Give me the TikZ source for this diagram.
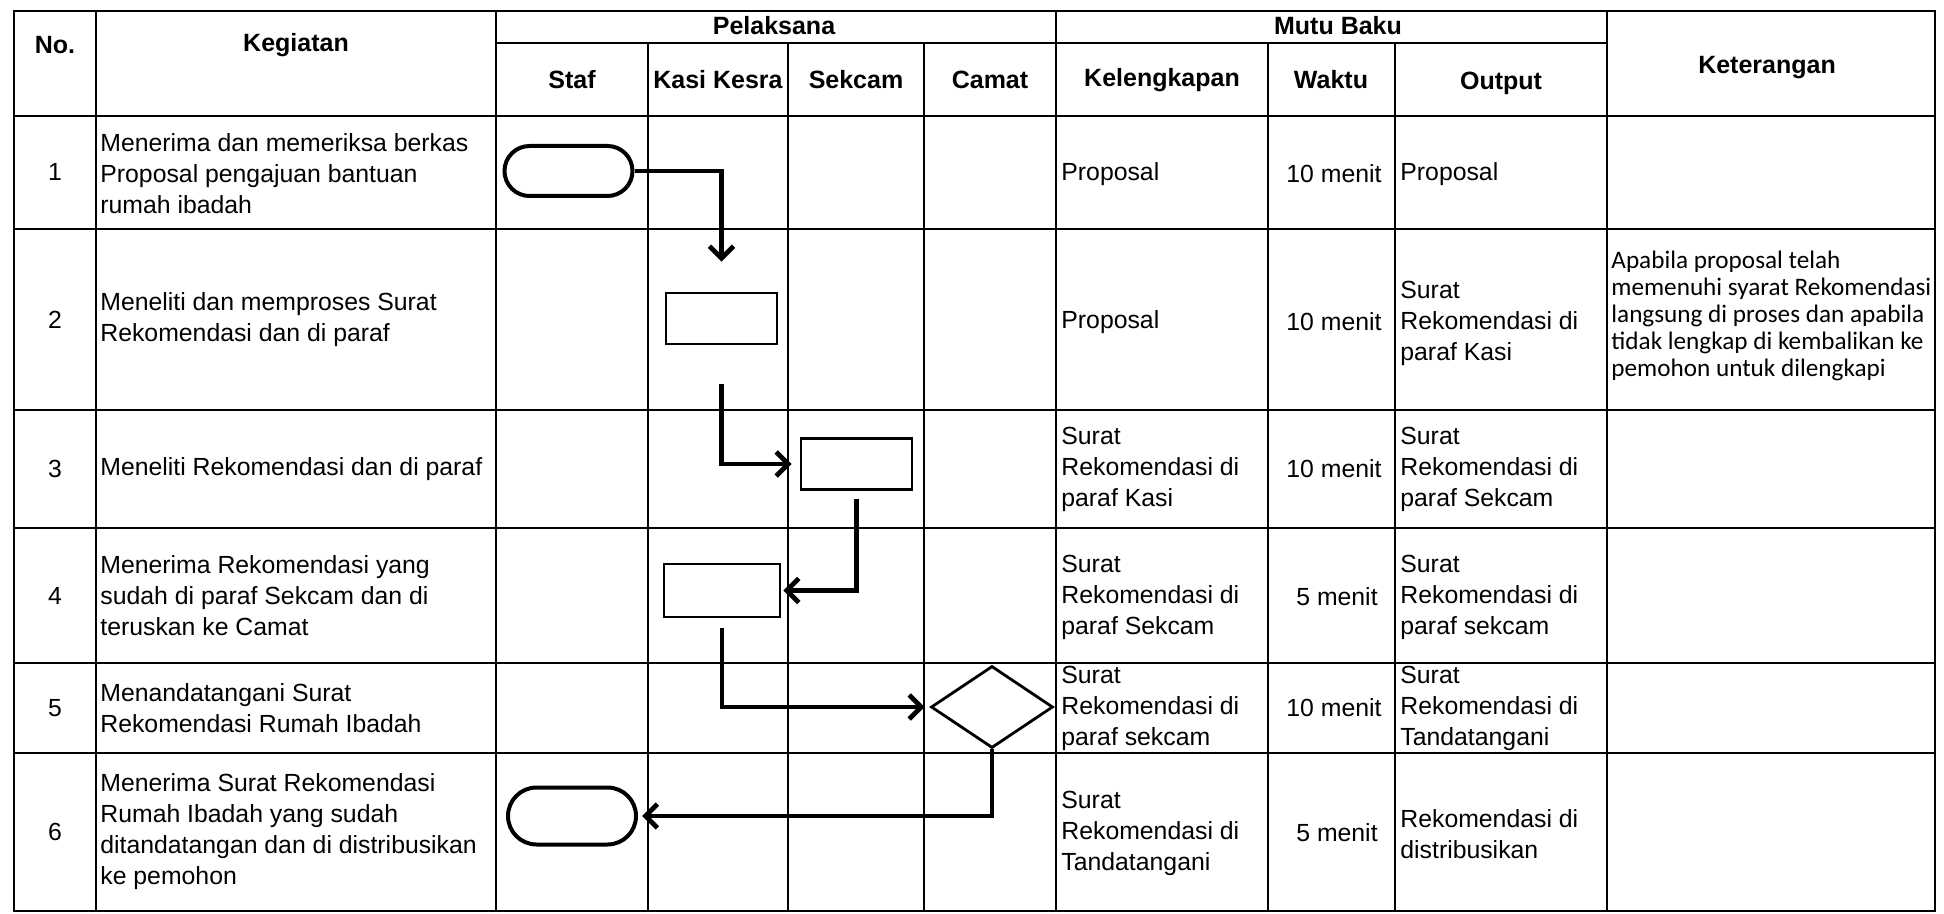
\documentclass[tikz,border=0pt]{standalone}
\usepackage{fontspec}
\setmainfont{Liberation Sans}
\newfontfamily\notefont{Carlito}
\usepackage{tikz}
\usetikzlibrary{arrows.meta, positioning, shapes, calc}

\tikzset{
    gridline/.style={line width=1.3pt},
    headtext/.style={font=\fontsize{12.5}{15}\selectfont\bfseries, inner sep=0pt},
    celltext/.style={font=\fontsize{12.4}{15.5}\selectfont, align=left, anchor=west, inner sep=0pt},
    numtext/.style={font=\fontsize{12.4}{15.5}\selectfont, inner sep=0pt},
    notetext/.style={font=\notefont\fontsize{12.6}{13.6}\selectfont, align=left, anchor=west, inner sep=0pt},
    terminal/.style={draw, line width=2pt, rounded rectangle, minimum width=64pt, minimum height=25pt, inner sep=0pt},
    process/.style={draw, line width=1.4pt, minimum width=55.5pt, minimum height=25.5pt, inner sep=0pt},
    decision/.style={draw, line width=1.4pt, diamond, minimum width=61pt, minimum height=41pt, inner sep=0pt},
    flowarrow/.style={line width=2.4pt, -{Straight Barb[length=6pt, width=12pt]}}
}

\begin{document}
\begin{tikzpicture}[x=0.5pt, y=-0.5pt]
    \useasboundingbox (0,0) rectangle (1944,914);

    % Table frame
    \draw[gridline] (14,11) rectangle (1935,911);
    \draw[gridline] (496,43) -- (1607,43);
    \draw[gridline] (14,116) -- (1935,116);
    \draw[gridline] (14,229) -- (1935,229);
    \draw[gridline] (14,410) -- (1935,410);
    \draw[gridline] (14,528) -- (1935,528);
    \draw[gridline] (14,663) -- (1935,663);
    \draw[gridline] (14,753) -- (1935,753);
    \draw[gridline] (96,11) -- (96,911);
    \draw[gridline] (496,11) -- (496,911);
    \draw[gridline] (1056,11) -- (1056,911);
    \draw[gridline] (1607,11) -- (1607,911);
    \draw[gridline] (648,43) -- (648,911);
    \draw[gridline] (788,43) -- (788,911);
    \draw[gridline] (924,43) -- (924,911);
    \draw[gridline] (1268,43) -- (1268,911);
    \draw[gridline] (1395,43) -- (1395,911);

    % Header
    \node[headtext] (hno) at (55,45) {No.};
    \node[headtext] (hkeg) at (296,45) {Kegiatan};
    \node[headtext] (hpel) at (774,26) {Pelaksana};
    \node[headtext] (hmutu) at (1338,26) {Mutu Baku};
    \node[headtext] (hket) at (1767,68) {Keterangan};
    \node[headtext] (hstaf) at (572,80) {Staf};
    \node[headtext] (hkasi) at (718,80) {Kasi Kesra};
    \node[headtext] (hsek) at (856,80) {Sekcam};
    \node[headtext] (hcam) at (990,80) {Camat};
    \node[headtext] (hkel) at (1162,80) {Kelengkapan};
    \node[headtext] (hwak) at (1331,80) {Waktu};
    \node[headtext] (hout) at (1501,83) {Output};

    % Row numbers
    \node[numtext] (no1) at (55,172) {1};
    \node[numtext] (no2) at (55,320) {2};
    \node[numtext] (no3) at (55,469) {3};
    \node[numtext] (no4) at (55,596) {4};
    \node[numtext] (no5) at (55,708) {5};
    \node[numtext] (no6) at (55,832) {6};

    % Kegiatan
    \node[celltext] (keg1) at (100,174) {Menerima dan memeriksa berkas\\Proposal pengajuan bantuan\\rumah ibadah};
    \node[celltext] (keg2) at (100,320) {Meneliti dan memproses Surat\\Rekomendasi dan di paraf};
    \node[celltext] (keg3) at (100,469) {Meneliti Rekomendasi dan di paraf};
    \node[celltext] (keg4) at (100,596) {Menerima Rekomendasi yang\\sudah di paraf Sekcam dan di\\teruskan ke Camat};
    \node[celltext] (keg5) at (100,708) {Menandatangani Surat\\Rekomendasi Rumah Ibadah};
    \node[celltext] (keg6) at (100,832) {Menerima Surat Rekomendasi\\Rumah Ibadah yang sudah\\ditandatangan dan di distribusikan\\ke pemohon};

    % Flow symbols
    \node[terminal] (t1) at (568.5,171) {};
    \node[process] (b2) at (721.5,318.5) {};
    \node[process] (b3) at (856.5,464) {};
    \node[process, minimum width=58pt, minimum height=26.5pt] (b4) at (722,590.5) {};
    \node[decision] (d5) at (992,707) {};
    \node[terminal, minimum height=28.5pt] (t6) at (572,816) {};

    % Flow arrows
    \draw[flowarrow, shorten >=15pt] (t1.east) -| (b2.north);
    \draw[flowarrow, shorten <=19.5pt, shorten >=4pt] (b2.south) |- (b3.west);
    \draw[flowarrow, shorten <=4pt, shorten >=1pt] (b3.south) |- (b4.east);
    \draw[flowarrow, shorten <=5pt, shorten >=2.5pt] (b4.south) |- (d5.west);
    \draw[flowarrow, shorten >=2pt] (d5.south) |- (t6.east);

    % Kelengkapan
    \node[celltext] (kel1) at (1061,174) {Proposal};
    \node[celltext] (kel2) at (1061,322) {Proposal};
    \node[celltext] (kel3) at (1061,469) {Surat\\Rekomendasi di\\paraf Kasi};
    \node[celltext] (kel4) at (1061,597) {Surat\\Rekomendasi di\\paraf Sekcam};
    \node[celltext] (kel5) at (1061,708) {Surat\\Rekomendasi di\\paraf sekcam};
    \node[celltext] (kel6) at (1061,833) {Surat\\Rekomendasi di\\Tandatangani};

    % Waktu
    \node[numtext] (wak1) at (1334,174) {10 menit};
    \node[numtext] (wak2) at (1334,322) {10 menit};
    \node[numtext] (wak3) at (1334,469) {10 menit};
    \node[numtext] (wak4) at (1337,597) {5 menit};
    \node[numtext] (wak5) at (1334,708) {10 menit};
    \node[numtext] (wak6) at (1337,833) {5 menit};

    % Output
    \node[celltext] (out1) at (1400,174) {Proposal};
    \node[celltext] (out2) at (1400,323) {Surat\\Rekomendasi di\\paraf Kasi};
    \node[celltext] (out3) at (1400,469) {Surat\\Rekomendasi di\\paraf Sekcam};
    \node[celltext] (out4) at (1400,597) {Surat\\Rekomendasi di\\paraf sekcam};
    \node[celltext] (out5) at (1400,708) {Surat\\Rekomendasi di\\Tandatangani};
    \node[celltext] (out6) at (1400,834) {Rekomendasi di\\distribusikan};

    % Keterangan
    \node[notetext] (ket2) at (1611,316) {Apabila proposal telah\\memenuhi syarat Rekomendasi\\langsung di proses dan apabila\\tidak lengkap di kembalikan ke\\pemohon untuk dilengkapi};
\end{tikzpicture}
\end{document}
